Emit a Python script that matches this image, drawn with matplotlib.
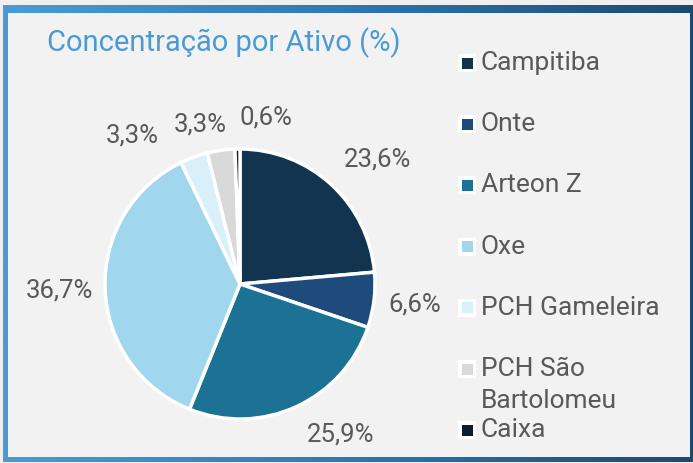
import matplotlib.pyplot as plt
import numpy as np
from matplotlib.colors import LinearSegmentedColormap
from matplotlib.patches import Rectangle

plt.rcParams['font.family'] = ['Roboto', 'DejaVu Sans']

# data
ativos = ["Campitiba", "Onte", "Arteon Z", "Oxe", "PCH Gameleira",
          "PCH São\nBartolomeu", "Caixa"]
valores = [23.6, 6.6, 25.9, 36.7, 3.3, 3.3, 0.6]
cores = ["#12344f", "#1f4a7c", "#1b7294", "#a0d7ee", "#d9eff9",
         "#d9d9d9", "#0d1e2e"]
# posunuti popisku (stupne) a jejich vzdalenost od stredu, jako v Excelu
posun_popisku = [-5.5, 0, 9, 0, 16, 6, -10]
vzdalenost = [1.375, 1.30, 1.34, 1.34, 1.36, 1.22, 1.25]

W, H = 693, 463
fig = plt.figure(figsize=(W / 100, H / 100), dpi=100)
fig.patch.set_facecolor("#efefef")

# ramecek s gradientem
bg = fig.add_axes([0, 0, 1, 1])
bg.axis("off")
grad = np.linspace(0, 1, 256).reshape(1, -1)
cmap = LinearSegmentedColormap.from_list("frame", ["#4a9bd7", "#2e78b5", "#1c4a6e"])
bg.imshow(grad, cmap=cmap, extent=[3, 693, 462, 5], aspect="auto", zorder=0)
bg.add_patch(Rectangle((8, 13), 682, 444, facecolor="#f2f2f2", edgecolor="none", zorder=1))
bg.set_xlim(0, W)
bg.set_ylim(H, 0)

# titulek
fig.text(47 / W, 1 - 43 / H, "Concentração por Ativo (%)", color="#4a9ad6",
         fontsize=21, va="center", ha="left")

# kolacovy graf
cx, cy, R, half = 240, 284, 135, 175
ax = fig.add_axes([(cx - half) / W, (H - cy - half) / H, 2 * half / W, 2 * half / H])
wedges, _ = ax.pie(valores, colors=cores, startangle=90, counterclock=False,
                   radius=1, wedgeprops=dict(edgecolor="white", linewidth=2.5))
ax.set_xlim(-half / R, half / R)
ax.set_ylim(-half / R, half / R)
ax.axis("off")

for w, v, d, r in zip(wedges, valores, posun_popisku, vzdalenost):
    ang = np.deg2rad((w.theta1 + w.theta2) / 2 + d)
    txt = f"{v:.1f}%".replace(".", ",")
    ax.text(r * np.cos(ang), r * np.sin(ang), txt, ha="center", va="center",
            fontsize=18.5, color="#595959")

# legenda
for i, (nazev, barva) in enumerate(zip(ativos, cores)):
    y = 63 + i * 61.2
    bg.add_patch(Rectangle((458, y - 9), 18, 18, facecolor="white",
                           edgecolor="none", zorder=2))
    bg.add_patch(Rectangle((462, y - 5.5), 11, 11, facecolor=barva,
                           edgecolor="none", zorder=3))
    for k, radek in enumerate(nazev.split("\n")):
        bg.text(481, y + k * 32, radek, fontsize=19, color="#595959",
                va="center", ha="left", zorder=3)

plt.savefig("out.png", dpi=100, facecolor=fig.get_facecolor())
